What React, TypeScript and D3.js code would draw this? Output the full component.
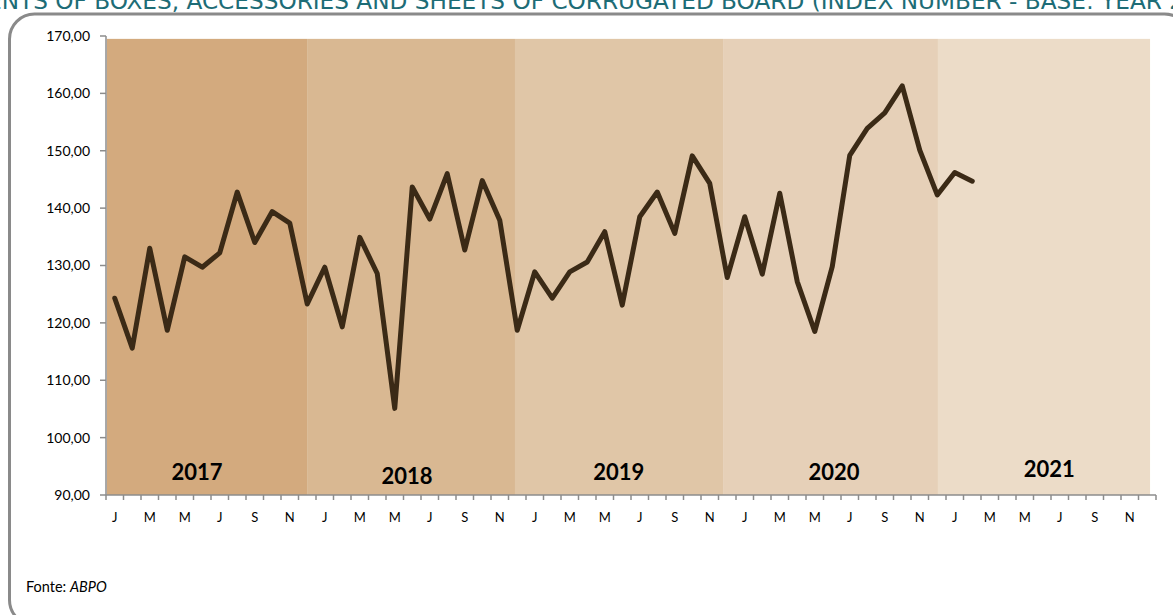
import React from "react";
import * as d3 from "d3";

// ---- data ----
const years = ["2017", "2018", "2019", "2020", "2021"];
const monthTickLabels = ["J", "M", "M", "J", "S", "N"];
const monthsPerYear = 12;
const totalMonths = 60;

// index values (Jan 2017 .. Feb 2021)
const indexValues = [
  124.3, 115.6, 133.0, 118.7, 131.5, 129.7, 132.2, 142.8, 134.0, 139.4, 137.4, 123.3,
  129.7, 119.3, 134.9, 128.6, 105.1, 143.7, 138.1, 146.0, 132.7, 144.8, 137.9, 118.7,
  128.9, 124.3, 128.9, 130.6, 135.9, 123.1, 138.5, 142.8, 135.6, 149.1, 144.3, 127.9,
  138.5, 128.5, 142.6, 127.2, 118.5, 129.8, 149.2, 153.9, 156.6, 161.3, 150.1, 142.3,
  146.2, 144.7,
];

// year background bands, in month units on the category axis
const bandEdges = [0.05, 11.49, 23.37, 35.26, 47.54, 59.66];
const bandColors = ["#D3AA7E", "#D9B892", "#E0C6A7", "#E6D0B8", "#ECDCC8"];
const bandTop = 169.5;
const yearLabelCenters = [5.2, 17.2, 29.3, 41.6, 53.9];
const yearLabelValues = [92.6, 92.0, 92.6, 92.6, 93.1];

const yTicks = [90, 100, 110, 120, 130, 140, 150, 160, 170];

const title =
  "SHIPMENTS OF BOXES, ACCESSORIES AND SHEETS OF CORRUGATED BOARD (INDEX NUMBER - BASE: YEAR 2005 = 100)";
const sourceLabel = "Fonte: ";
const sourceName = "ABPO";

export default function App() {
  const W = 1173;
  const H = 615;
  const left = 106;
  const right = 1156;
  const top = 36;
  const bottom = 495;

  const x = d3.scaleLinear().domain([0, totalMonths]).range([left, right]);
  const y = d3.scaleLinear().domain([90, 170]).range([bottom, top]);
  const fmt = (v: number) => d3.format(".2f")(v).replace(".", ",");

  const line = d3
    .line<number>()
    .x((_, i) => x(i + 0.5))
    .y((d) => y(d));

  const font = "Lato, 'Open Sans', sans-serif";
  const axisColor = "#8c8c8c";

  const monthLabels: { i: number; t: string }[] = [];
  for (let yr = 0; yr < years.length; yr++) {
    monthTickLabels.forEach((t, k) => monthLabels.push({ i: yr * monthsPerYear + k * 2, t }));
  }

  return (
    <svg
      width={W}
      height={H}
      style={{ position: "absolute", left: 0, top: 0, background: "#fff" }}
    >
      {/* clipped title (cut at the top edge as in the source) */}
      <text
        x={-86}
        y={8.5}
        fill="#1D6C76"
        fontFamily="'DejaVu Sans', Verdana, sans-serif"
        fontSize={23.2}
      >
        {title}
      </text>

      {/* frame */}
      <rect
        x={9.5}
        y={14}
        width={1180}
        height={611}
        rx={25}
        ry={25}
        fill="none"
        stroke="#8a8a8a"
        strokeWidth={3}
      />

      {/* year bands */}
      {years.map((yr, i) => (
        <rect
          key={yr}
          x={x(bandEdges[i])}
          y={y(bandTop)}
          width={x(bandEdges[i + 1]) - x(bandEdges[i])}
          height={y(90) - y(bandTop)}
          fill={bandColors[i]}
        />
      ))}

      {/* year labels */}
      {years.map((yr, i) => (
        <text
          key={"l" + yr}
          x={x(yearLabelCenters[i])}
          y={y(yearLabelValues[i])}
          textAnchor="middle"
          fontFamily={font}
          fontWeight="bold"
          fontSize={22}
          fill="#000"
        >
          {yr}
        </text>
      ))}

      {/* y axis */}
      <line x1={left} x2={left} y1={top} y2={bottom} stroke={axisColor} strokeWidth={1.5} />
      {yTicks.map((t) => (
        <g key={t}>
          <line x1={left - 6} x2={left} y1={y(t)} y2={y(t)} stroke={axisColor} strokeWidth={1.5} />
          <text
            x={90}
            y={y(t)}
            dy="0.35em"
            textAnchor="end"
            fontFamily={font}
            fontSize={14}
            fill="#000"
          >
            {fmt(t)}
          </text>
        </g>
      ))}

      {/* x axis */}
      <line x1={left} x2={right} y1={bottom} y2={bottom} stroke={axisColor} strokeWidth={1.5} />
      {d3.range(totalMonths + 1).map((i) => (
        <line
          key={"t" + i}
          x1={x(i)}
          x2={x(i)}
          y1={bottom}
          y2={bottom + 5}
          stroke={axisColor}
          strokeWidth={1.5}
        />
      ))}
      {monthLabels.map((m, k) => (
        <text
          key={"m" + k}
          x={x(m.i + 0.5)}
          y={522}
          textAnchor="middle"
          fontFamily={font}
          fontSize={13}
          fill="#000"
        >
          {m.t}
        </text>
      ))}

      {/* series */}
      <path
        d={line(indexValues) || ""}
        fill="none"
        stroke="#3B2A16"
        strokeWidth={5}
        strokeLinejoin="round"
        strokeLinecap="round"
      />

      {/* source */}
      <text x={26} y={592} fontFamily={font} fontSize={14.5} fill="#000">
        {sourceLabel}
        <tspan fontStyle="italic">{sourceName}</tspan>
      </text>
    </svg>
  );
}
